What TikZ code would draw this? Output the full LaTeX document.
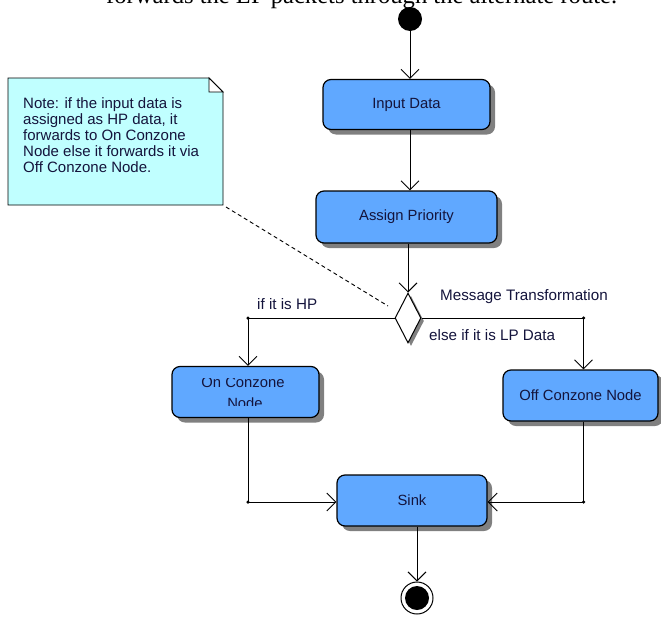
\documentclass[tikz,border=0pt]{standalone}
\usepackage{fontspec}
\setmainfont{Liberation Serif}
\newfontfamily\sansf{Liberation Sans}
\usetikzlibrary{arrows.meta,shapes.geometric,shadows}
\definecolor{boxblue}{RGB}{96,168,255}
\definecolor{notecyan}{RGB}{192,255,255}
\definecolor{shadowgray}{RGB}{128,128,128}
\definecolor{txt}{RGB}{20,20,60}
\tikzset{
  actbox/.style={draw=black, line width=1.2pt, fill=boxblue, rounded corners=8pt,
    inner sep=0pt, text=txt, font=\sansf\fontsize{14.8}{16}\selectfont,
    drop shadow={shadow xshift=5pt, shadow yshift=-5pt, fill=shadowgray, opacity=1}},
  decis/.style={diamond, draw=black, line width=1pt, fill=white, inner sep=0pt,
    minimum width=26pt, minimum height=50pt,
    drop shadow={shadow xshift=3pt, shadow yshift=-3pt, fill=shadowgray, opacity=1}},
  arr/.style={line width=0.9pt, -{Straight Barb[length=9pt,width=18pt,line width=0.9pt]}},
  flow/.style={line width=0.9pt},
  lbl/.style={text=txt, font=\sansf\fontsize{15.2}{16}\selectfont, inner sep=0pt},
  jdot/.style={circle, fill=black, inner sep=0pt, minimum size=3.5pt}
}
\begin{document}
\begin{tikzpicture}[x=1pt,y=-1pt]
\useasboundingbox (0,0) rectangle (661,616);
\clip (0,0) rectangle (661,616);
\fill[white] (0,0) rectangle (661,616);
% top clipped caption
\node[anchor=base west, inner sep=0pt, font=\fontsize{24.6}{25}\selectfont] (caption) at (106,3) {forwards the LP packets through the alternate route.};
% start
\node[circle, fill=black, minimum size=24pt, inner sep=0pt] (start) at (410,19) {};
% activities
\node[actbox, minimum width=167pt, minimum height=50pt] (in) at (406.5,104.5) {Input Data};
\node[actbox, minimum width=181pt, minimum height=52pt] (ap) at (406.5,217) {Assign Priority};
\node[decis] (dec) at (408,318) {};
\node[actbox, minimum width=147pt, minimum height=51pt] (on) at (245.5,392) {};
\node[actbox, minimum width=155pt, minimum height=51pt] (off) at (580.5,395.5) {Off Conzone Node};
\node[actbox, minimum width=150pt, minimum height=51pt] (sink) at (412,500.5) {Sink};
% clipped text of On Conzone Node
\begin{scope}
\clip (172,378) rectangle (319,405);
\node[lbl, anchor=base, font=\sansf\fontsize{14.8}{16}\selectfont] (ontxt1) at (243,387.5) {On Conzone};
\node[lbl, anchor=base, font=\sansf\fontsize{14.8}{16}\selectfont] (ontxt2) at (245,408.5) {Node};
\end{scope}
% final
\node[circle, draw=black, line width=1pt, fill=white, minimum size=32pt, inner sep=0pt] (end) at (417,598) {};
\fill[black] (end.center) circle (12);
% note
\draw[line width=0.9pt, fill=notecyan] (8,78) -- (209,78) -- (223,92) -- (223,205) -- (8,205) -- cycle;
\draw[line width=0.9pt, fill=white] (209,78) -- (209,92) -- (223,92) -- cycle;
\node[lbl, anchor=north west, align=left, font=\sansf\fontsize{15}{16}\selectfont] (note) at (23,97)
 {Note: if the input data is\\assigned as HP data, it\\forwards to On Conzone\\Node else it forwards it via\\Off Conzone Node.};
\coordinate (nc) at (226,207);
\coordinate (dn) at (388,306);
\draw[line width=0.9pt, dash pattern=on 4pt off 3pt] (nc) -- (dn);
% junctions
\coordinate (jl) at (248,318);
\coordinate (jr) at (583.5,318);
\coordinate (bl) at (248,502);
\coordinate (br) at (583.5,502);
\node[jdot] (d1) at (jl) {};
\node[jdot] (d2) at (jr) {};
\node[jdot] (d3) at (bl) {};
\node[jdot] (d4) at (br) {};
% connectors
\draw[arr] (start) -- (start |- in.north);
\draw[arr] (start |- in.south) -- (start |- ap.north);
\draw[arr] (dec.north |- ap.south) -- (dec.north);
\draw[flow] (dec.west) -- (jl);
\draw[arr] (jl) -- (jl |- on.north);
\draw[flow] (dec.east) -- (jr);
\draw[arr] (jr) -- (jr |- off.north);
\draw[flow] (bl |- on.south) -- (bl);
\draw[arr] (bl) -- (sink.west |- bl);
\draw[flow] (br |- off.south) -- (br);
\draw[arr] (br) -- (sink.east |- br);
\draw[arr] (end |- sink.south) -- (end.north);
% labels
\node[lbl, anchor=west] (l1) at (257,304) {if it is HP};
\node[lbl, anchor=west] (l2) at (440,297) {Message Transformation};
\node[lbl, anchor=west] (l3) at (429,335) {else if it is LP Data};
\end{tikzpicture}
\end{document}
